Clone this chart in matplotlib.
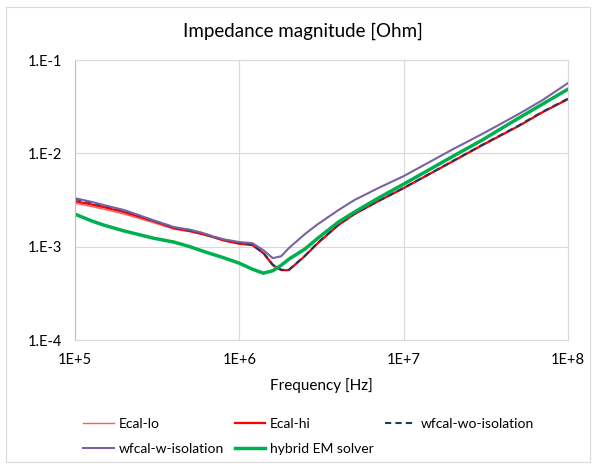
import matplotlib
matplotlib.use("Agg")
import matplotlib.pyplot as plt
from matplotlib.patches import Rectangle

plt.rcParams['font.family'] = ['Lato', 'DejaVu Sans']

# ---- data ----
freq = [1e5, 1.25e5, 1.5e5, 2e5, 3e5, 4e5, 5e5, 6e5, 7e5, 8e5, 1e6, 1.2e6, 1.4e6,
        1.6e6, 1.8e6, 2e6, 2.5e6, 3e6, 4e6, 5e6, 7e6, 1e7, 2e7, 3e7, 5e7, 7e7, 1e8]

ecal_lo = [2.92e-3, 2.70e-3, 2.52e-3, 2.23e-3, 1.81e-3, 1.54e-3, 1.45e-3, 1.35e-3, 1.25e-3, 1.16e-3,
           1.07e-3, 1.04e-3, 8.52e-4, 6.33e-4, 5.60e-4, 5.60e-4, 7.91e-4, 1.09e-3, 1.70e-3,
           2.23e-3, 3.07e-3, 4.24e-3, 8.25e-3, 1.22e-2, 1.96e-2, 2.76e-2, 3.81e-2]
ecal_hi = [3.07e-3, 2.84e-3, 2.65e-3, 2.34e-3, 1.88e-3, 1.58e-3, 1.47e-3, 1.36e-3, 1.26e-3, 1.17e-3,
           1.077e-3, 1.04e-3, 8.52e-4, 6.33e-4, 5.60e-4, 5.60e-4, 7.91e-4, 1.09e-3, 1.70e-3,
           2.23e-3, 3.07e-3, 4.24e-3, 8.25e-3, 1.22e-2, 1.96e-2, 2.76e-2, 3.81e-2]
wfcal_wo = [3.25e-3, 2.98e-3, 2.75e-3, 2.43e-3, 1.90e-3, 1.61e-3, 1.50e-3, 1.39e-3, 1.27e-3, 1.19e-3,
            1.10e-3, 1.05e-3, 8.60e-4, 6.40e-4, 5.65e-4, 5.65e-4, 7.95e-4, 1.10e-3, 1.71e-3,
            2.24e-3, 3.08e-3, 4.26e-3, 8.30e-3, 1.23e-2, 1.98e-2, 2.79e-2, 3.85e-2]
wfcal_w = [3.31e-3, 3.03e-3, 2.79e-3, 2.46e-3, 1.92e-3, 1.62e-3, 1.52e-3, 1.40e-3, 1.28e-3, 1.20e-3,
           1.12e-3, 1.09e-3, 9.17e-4, 7.53e-4, 7.91e-4, 9.64e-4, 1.36e-3, 1.74e-3, 2.46e-3,
           3.15e-3, 4.24e-3, 5.70e-3, 1.11e-2, 1.61e-2, 2.63e-2, 3.72e-2, 5.66e-2]
hybrid = [2.23e-3, 1.90e-3, 1.70e-3, 1.47e-3, 1.233e-3, 1.12e-3, 1.00e-3, 8.95e-4, 8.21e-4, 7.62e-4,
          6.65e-4, 5.74e-4, 5.20e-4, 5.53e-4, 6.33e-4, 7.34e-4, 9.40e-4, 1.23e-3, 1.83e-3,
          2.34e-3, 3.31e-3, 4.68e-3, 9.33e-3, 1.385e-2, 2.38e-2, 3.37e-2, 4.87e-2]

x_ticks = [1e5, 1e6, 1e7, 1e8]
x_tick_labels = ["1E+5", "1E+6", "1E+7", "1E+8"]
y_ticks = [1e-4, 1e-3, 1e-2, 1e-1]
y_tick_labels = ["1.E-4", "1.E-3", "1.E-2", "1.E-1"]

W, H = 596, 466
fig = plt.figure(figsize=(W / 100, H / 100), dpi=100)
ax = fig.add_axes([75 / W, 1 - 340 / H, (568 - 75) / W, (340 - 60) / H])

ax.plot(freq, ecal_lo, color='#ff5b5b', lw=1.0, label='Ecal-lo')
ax.plot(freq, ecal_hi, color='#ff0000', lw=1.6, label='Ecal-hi')
ax.plot(freq, wfcal_wo, color='#1f3864', lw=1.5, ls=(0, (3, 2)), label='wfcal-wo-isolation')
ax.plot(freq, wfcal_w, color='#7a62a0', lw=1.5, label='wfcal-w-isolation')
ax.plot(freq, hybrid, color='#00b050', lw=2.5, label='hybrid EM solver')

ax.set_xscale('log')
ax.set_yscale('log')
ax.set_xlim(1e5, 1e8)
ax.set_ylim(1e-4, 1e-1)
ax.set_xticks(x_ticks)
ax.set_xticklabels(x_tick_labels)
ax.set_yticks(y_ticks)
ax.set_yticklabels(y_tick_labels)
ax.minorticks_off()
ax.tick_params(axis='both', length=0, labelsize=10.5, colors='#000000')
ax.tick_params(axis='y', pad=9)
ax.tick_params(axis='x', pad=9)
ax.grid(True, color='#d9d9d9', lw=0.8)
ax.set_axisbelow(True)
for s in ['top', 'right', 'bottom']:
    ax.spines[s].set_color('#d9d9d9')
    ax.spines[s].set_linewidth(0.8)
ax.spines['left'].set_color('#bfbfbf')
ax.spines['left'].set_linewidth(0.8)

ax.set_xlabel('Frequency [Hz]', fontsize=11, labelpad=8)
fig.text(303 / W, 1 - 31 / H, 'Impedance magnitude [Ohm]', ha='center', va='center', fontsize=13.5)

handles, labels = ax.get_legend_handles_labels()
order = [0, 3, 1, 4, 2]  # row-wise layout: 3 columns
fs = 10
fig.legend([handles[i] for i in order], [labels[i] for i in order],
           loc='upper left', bbox_to_anchor=(83 / W, 1 - 418 / H),
           ncol=3, frameon=False, fontsize=fs, handlelength=2.2, handletextpad=0.35,
           columnspacing=0.8, labelspacing=0.92, borderaxespad=0, borderpad=0)

fig.patches.append(Rectangle((6 / W, 1 - 462 / H), (590 - 6) / W, (462 - 7) / H,
                             transform=fig.transFigure, fill=False, edgecolor='#d9d9d9', lw=0.8))

fig.savefig('out.png', dpi=100)
